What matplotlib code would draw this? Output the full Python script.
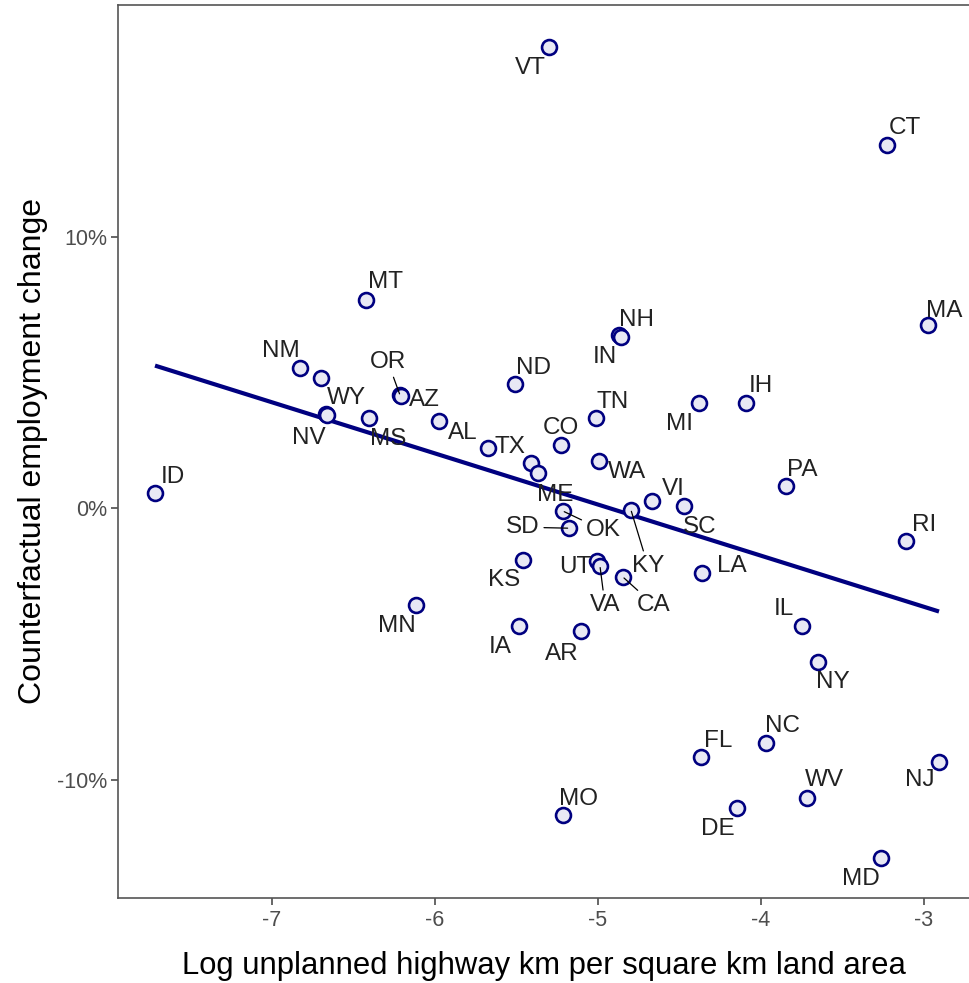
import numpy as np
import matplotlib.pyplot as plt

plt.rcParams['font.family'] = ['Liberation Sans', 'DejaVu Sans']

# state labels ("" = point drawn without label)
estados = ["VT", "CT", "MT", "MA", "NH", "IN", "NM", "", "ND", "OR", "AZ",
           "IH", "MI", "WY", "NV", "MS", "TN", "AL", "CO", "TX", "", "ME",
           "WA", "VI", "SC", "KY", "OK", "SD", "UT", "VA", "CA", "KS", "LA",
           "ID", "PA", "RI", "MN", "IA", "AR", "IL", "NY", "FL", "NC", "NJ",
           "WV", "DE", "MO", "MD"]

# log unplanned highway km per square km land area
log_km = [-5.301, -3.227, -6.423, -2.975, -4.871, -4.859, -6.828, -6.699,
          -5.509, -6.215, -6.209, -4.092, -4.380, -6.669, -6.663, -6.405,
          -5.012, -5.975, -5.227, -5.675, -5.411, -5.368, -4.994, -4.669,
          -4.472, -4.798, -5.215, -5.178, -5.006, -4.988, -4.847, -5.460,
          -4.362, -7.718, -3.847, -3.110, -6.117, -5.485, -5.104, -3.748,
          -3.650, -4.368, -3.969, -2.908, -3.718, -4.147, -5.215, -3.264]

# counterfactual employment change (%)
cambio = [16.98, 13.37, 7.66, 6.74, 6.37, 6.30, 5.16, 4.79, 4.57, 4.16, 4.13,
          3.87, 3.87, 3.46, 3.43, 3.31, 3.31, 3.20, 2.32, 2.21, 1.66, 1.29,
          1.73, 0.26, 0.07, -0.07, -0.11, -0.74, -1.95, -2.14, -2.54, -1.92,
          -2.39, 0.55, 0.81, -1.22, -3.57, -4.35, -4.53, -4.35, -5.67, -9.17,
          -8.66, -9.36, -10.68, -11.05, -11.31, -12.89]

# label offsets in pixels (dx, dy), and which ones get a segment
offsets = {
    "VT": (-19, -21), "CT": (18, 17), "MT": (19, 18), "MA": (16, 14),
    "NH": (17, 15), "IN": (-16, -20), "NM": (-19, 17), "ND": (18, 16),
    "OR": (-12, 33), "AZ": (23, -4), "IH": (15, 17), "MI": (-20, -21),
    "WY": (20, 16), "NV": (-18, -23), "MS": (19, -21), "TN": (17, 16),
    "AL": (24, -12), "CO": (0, 17), "TX": (22, 1), "ME": (17, -22),
    "WA": (28, -11), "VI": (21, 12), "SC": (16, -21), "KY": (17, -56),
    "OK": (40, -19), "SD": (-46, 1), "UT": (-22, -6), "VA": (5, -39),
    "CA": (31, -28), "KS": (-19, -20), "LA": (30, 7), "ID": (18, 16),
    "PA": (16, 16), "RI": (18, 16), "MN": (-19, -21), "IA": (-19, -21),
    "AR": (-19, -23), "IL": (-18, 17), "NY": (15, -20), "FL": (17, 16),
    "NC": (16, 17), "NJ": (-19, -18), "WV": (17, 18), "DE": (-19, -21),
    "MO": (16, 16), "MD": (-20, -21),
}
con_segmento = ["OR", "KY", "OK", "SD", "VA", "CA"]

x = np.array(log_km)
y = np.array(cambio)

fig = plt.figure(figsize=(9.69, 9.83), dpi=100)
ax = fig.add_axes([0.1218, 0.0865, 0.8782, 0.9084])

# linear fit
b, a = np.polyfit(x, y, 1)
xs = np.array([x.min(), x.max()])
ax.plot(xs, a + b * xs, color='#000080', lw=3, zorder=2, solid_capstyle='butt')

ax.scatter(x, y, s=115, facecolor='#e8e8f4', edgecolor='#000080',
           linewidths=1.9, zorder=3)

for est, xi, yi in zip(estados, x, y):
    if not est:
        continue
    dx, dy = offsets[est]
    props = None
    if est in con_segmento:
        props = dict(arrowstyle='-', color='black', lw=0.9,
                     shrinkA=1, shrinkB=1)
    ax.annotate(est, (xi, yi), xytext=(dx, dy), textcoords='offset pixels',
                ha='center', va='center', fontsize=17.5, color='#222222',
                arrowprops=props, zorder=4)

ax.set_xlim(-7.945, -2.724)
ax.set_ylim(-14.36, 18.53)
ax.set_xticks([-7, -6, -5, -4, -3])
ax.set_xticklabels(['-7', '-6', '-5', '-4', '-3'])
ax.set_yticks([-10, 0, 10])
ax.set_yticklabels(['-10%', '0%', '10%'])
ax.tick_params(colors='#4d4d4d', labelsize=15.5, length=5, width=1.2,
               direction='out', pad=3)
ax.tick_params(axis='x', pad=4)
for lado in ['left', 'bottom', 'top']:
    ax.spines[lado].set_color('#555555')
    ax.spines[lado].set_linewidth(1.2)
ax.spines['right'].set_visible(False)

ax.set_xlabel('Log unplanned highway km per square km land area',
              fontsize=22.3, color='black', labelpad=14)
ax.set_ylabel('Counterfactual employment change', fontsize=23,
              color='black', labelpad=6)

fig.savefig('out.png', dpi=100)
